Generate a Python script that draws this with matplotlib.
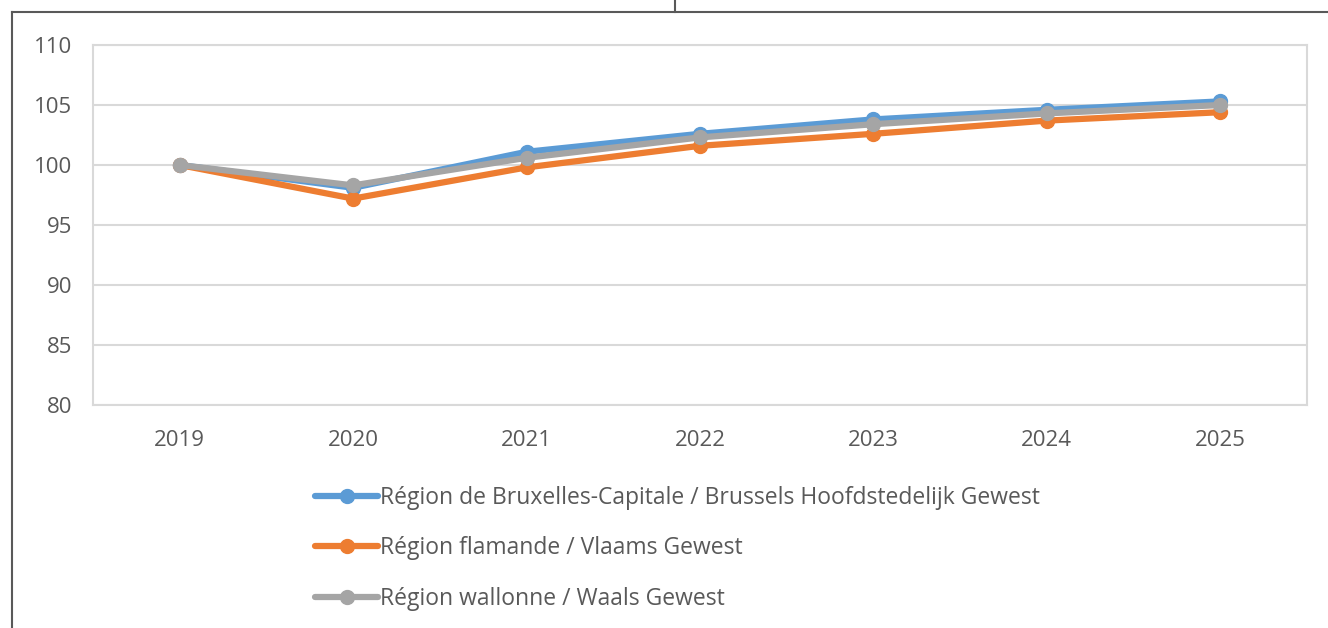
import matplotlib
matplotlib.use('Agg')
from matplotlib import pyplot as plt
from matplotlib.lines import Line2D

years = ['2019', '2020', '2021', '2022', '2023', '2024', '2025']

brussels = [100.0, 98.1, 101.1, 102.6, 103.8, 104.6, 105.3]
flanders = [100.0, 97.2, 99.8, 101.6, 102.6, 103.7, 104.4]
wallonia = [100.0, 98.3, 100.6, 102.3, 103.4, 104.3, 105.0]

labels = ['Région de Bruxelles-Capitale / Brussels Hoofdstedelijk Gewest',
          'Région flamande / Vlaams Gewest',
          'Région wallonne / Waals Gewest']
colors = ['#5B9BD5', '#ED7D31', '#A5A5A5']

plt.rcParams['font.family'] = ['Open Sans', 'DejaVu Sans']
text_color = '#595959'
grid_color = '#D9D9D9'

fig = plt.figure(figsize=(13.28, 6.28), dpi=100)
ax = fig.add_axes([93 / 1328, 1 - 405 / 628, (1307 - 93) / 1328, 360 / 628])

x = list(range(len(years)))
for series, label, color in zip([brussels, flanders, wallonia], labels, colors):
    ax.plot(x, series, color=color, lw=4.5, marker='o', markersize=10,
            label=label, solid_capstyle='round', zorder=3)

ax.set_xlim(-0.5, len(years) - 0.5)
ax.set_ylim(80, 110)
ax.set_yticks(range(80, 111, 5))
ax.set_xticks(x)
ax.set_xticklabels(years)
ax.tick_params(length=0, labelsize=16, colors=text_color)
ax.tick_params(axis='y', pad=15)
ax.tick_params(axis='x', pad=18)
ax.grid(axis='y', color=grid_color, lw=1.5, zorder=0)
for side in ax.spines.values():
    side.set_color(grid_color)
    side.set_linewidth(1.5)

leg = fig.legend(loc='upper left', bbox_to_anchor=(315 / 1328, 1 - 486 / 628),
                 frameon=False, fontsize=16.5, handlelength=2.75,
                 handletextpad=0.1, labelspacing=1.15, numpoints=1,
                 borderaxespad=0, borderpad=0)
for t in leg.get_texts():
    t.set_color(text_color)

# outer frame of the pasted picture
frame_color = '#595959'
fig.add_artist(Line2D([12 / 1328, 12 / 1328], [0, 1 - 12 / 628],
                      transform=fig.transFigure, color=frame_color, lw=1.5))
fig.add_artist(Line2D([12 / 1328, 1], [1 - 12 / 628, 1 - 12 / 628],
                      transform=fig.transFigure, color=frame_color, lw=1.5))
fig.add_artist(Line2D([675 / 1328, 675 / 1328], [1 - 12 / 628, 1],
                      transform=fig.transFigure, color=frame_color, lw=1.5))

fig.savefig('out.png', dpi=100)
